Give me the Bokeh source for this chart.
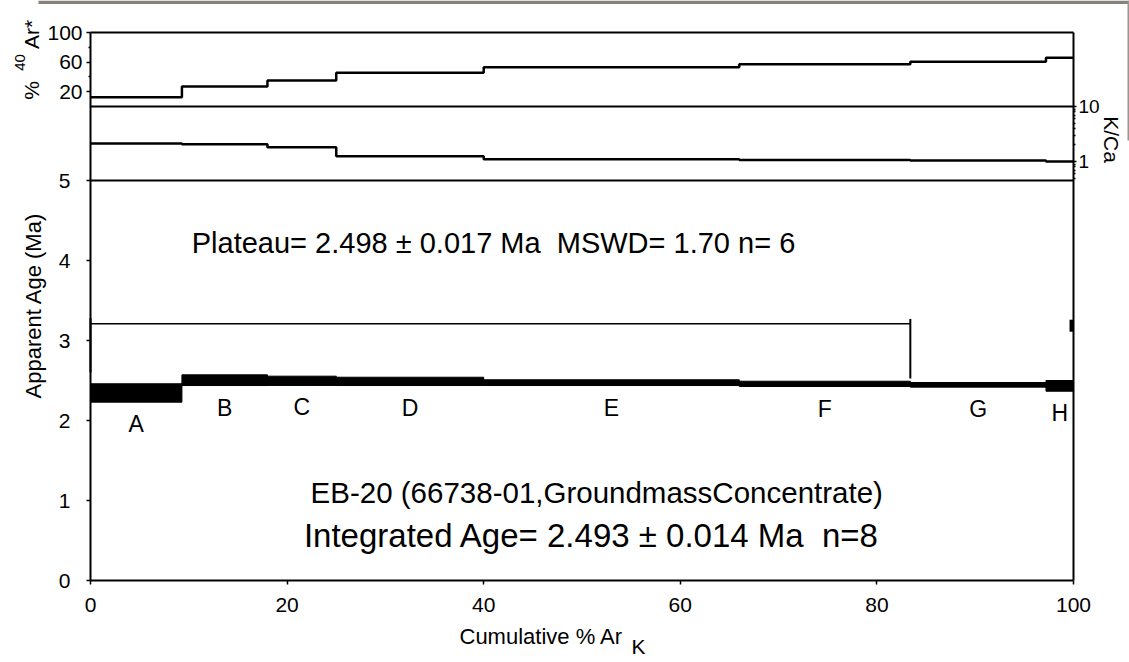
import math
from bokeh.plotting import figure
from bokeh.models import (Range1d, FixedTicker, Label, LinearAxis, LogAxis,
                          BasicTickFormatter, LogScale)
from bokeh.embed import file_html
from bokeh.resources import INLINE
from bokeh.core.properties import value

# ---------------- data ----------------
steps = ["A", "B", "C", "D", "E", "F", "G", "H"]
cum_ar = [0.0, 9.3, 18.0, 25.0, 40.0, 66.0, 83.4, 97.2, 100.0]
pct_rad = [12.6, 27.0, 35.0, 45.5, 53.0, 57.0, 60.4, 65.8]
k_ca = [2.12, 2.06, 1.81, 1.25, 1.10, 1.07, 1.04, 1.00]
age = [2.344, 2.504, 2.496, 2.489, 2.473, 2.458, 2.446, 2.433]
age_err = [0.115, 0.067, 0.058, 0.052, 0.036, 0.033, 0.029, 0.067]

plateau_n = 6
plateau_bar_age = 3.21
bracket_top = [3.28, 3.27]
bracket_bottom = [2.60, 2.525]
integrated_marker = [3.11, 3.26]

x_ticks = [0, 20, 40, 60, 80, 100]
age_ticks = [0, 1, 2, 3, 4, 5]
rad_ticks = [20, 60, 100]
rad_minor = [40, 80]
kca_ticks = [1, 10]
kca_minor = [0.5, 0.6, 0.7, 0.8, 0.9, 2, 3, 4, 5, 6, 7, 8, 9]

plateau_text = "Plateau= 2.498 \u00b1 0.017 Ma \u00a0MSWD= 1.70 n= 6"
sample_text = "EB-20 (66738-01,GroundmassConcentrate)"
integrated_text = "Integrated Age= 2.493 \u00b1 0.014 Ma \u00a0n=8"

# ---------------- geometry (canvas pixels) ----------------
FONT = "Liberation Sans"
W, H = 1129, 661
X0_PX, X_PER = 90.0, 9.83          # x=0 position, px per % 39Ar
AGE0_PX, AGE_PER = 580.0, 80.0     # age 0 position, px per Ma
RAD0_PX, RAD_PER = 106.0, 0.74     # %40Ar* = 0 position, px per %
KCA1_PX, KCA_DEC = 161.0, 55.0     # K/Ca = 1 position, px per decade
FRAME_TOP_PX = 32.0
KCA_PANEL_BOTTOM_PX = 180.0

x_range = Range1d(-X0_PX / X_PER, (W - X0_PX) / X_PER)
age_range = Range1d(-(H - AGE0_PX) / AGE_PER, AGE0_PX / AGE_PER)
rad_range = Range1d(-(H - RAD0_PX) / RAD_PER, RAD0_PX / RAD_PER)
kca_range = Range1d(10 ** (-(H - KCA1_PX) / KCA_DEC), 10 ** (KCA1_PX / KCA_DEC))
frame_top_age = (AGE0_PX - FRAME_TOP_PX) / AGE_PER
kca_panel_bottom = 10 ** (-(KCA_PANEL_BOTTOM_PX - KCA1_PX) / KCA_DEC)


def px_x(px):
    return (px - X0_PX) / X_PER


def px_age(py):
    return (AGE0_PX - py) / AGE_PER


p = figure(width=W, height=H, x_range=x_range, y_range=age_range,
           output_backend="svg", toolbar_location=None, title=None,
           min_border=0, x_axis_location=None, y_axis_location=None)
p.extra_y_ranges = {"rad": rad_range, "kca": kca_range}
p.extra_y_scales = {"kca": LogScale()}
p.grid.visible = False
p.outline_line_color = None
p.background_fill_color = "white"
p.border_fill_color = "white"


def style_axis(ax, size="21px"):
    ax.axis_line_color = None
    ax.major_tick_line_color = "black"
    ax.major_tick_line_width = 1.5
    ax.major_tick_out = 4
    ax.major_tick_in = 0
    ax.minor_tick_out = 2
    ax.minor_tick_in = 0
    ax.minor_tick_line_width = 1.5
    ax.major_label_text_font = FONT
    ax.major_label_text_font_size = size
    ax.major_label_text_color = "black"


ay = LinearAxis(ticker=FixedTicker(ticks=age_ticks), fixed_location=0,
                bounds=(age_ticks[0], age_ticks[-1]))
style_axis(ay)
ay.major_label_standoff = 16
ay.minor_tick_line_color = None
p.add_layout(ay, "left")

arad = LinearAxis(y_range_name="rad", ticker=FixedTicker(ticks=rad_ticks, minor_ticks=rad_minor),
                  fixed_location=0, bounds=(0, 100))
style_axis(arad)
arad.major_label_standoff = 4
p.add_layout(arad, "left")

akca = LogAxis(y_range_name="kca", ticker=FixedTicker(ticks=kca_ticks, minor_ticks=kca_minor),
               formatter=BasicTickFormatter(), fixed_location=100,
               bounds=(kca_panel_bottom, 10))
style_axis(akca, "19px")
akca.major_tick_out = 3
akca.major_label_standoff = 2
p.add_layout(akca, "right")

axx = LinearAxis(ticker=FixedTicker(ticks=x_ticks), fixed_location=0, bounds=(0, 100))
style_axis(axx)
axx.major_label_standoff = 13
axx.minor_tick_line_color = None
p.add_layout(axx, "below")

# ---------------- scanned-page edge (grey strip of the source image) ----------------
p.quad(left=[px_x(38)], right=[px_x(W)], bottom=[px_age(3.5)], top=[px_age(0)],
       fill_color="#86817d", line_color=None)
p.quad(left=[px_x(W - 2)], right=[px_x(W)], bottom=[px_age(140)], top=[px_age(0)],
       fill_color="#9a9591", line_color=None)

# ---------------- frame ----------------
p.segment(x0=[0, 100, 0, 0], y0=[0, 0, 0, 5], x1=[0, 100, 100, 100],
          y1=[frame_top_age, frame_top_age, 0, 5], line_width=2, line_color="black")
p.segment(x0=[0, 0], y0=[0, 100], x1=[100, 100], y1=[0, 100], y_range_name="rad",
          line_width=2, line_color="black")

# ---------------- spectra ----------------
p.step(cum_ar, pct_rad + [pct_rad[-1]], mode="after", line_width=2.5, line_color="black",
       y_range_name="rad")
p.step(cum_ar, k_ca + [k_ca[-1]], mode="after", line_width=2.5, line_color="black",
       y_range_name="kca")

lefts = cum_ar[:-1]
rights = cum_ar[1:]
bots = [a - e for a, e in zip(age, age_err)]
tops = [a + e for a, e in zip(age, age_err)]
p.quad(left=lefts, right=rights, bottom=bots, top=tops, fill_color="black",
       line_color="black", line_width=1)

mids = [(l + r) / 2 for l, r in zip(lefts, rights)]
lab_y = [b - 0.275 for b in bots]
p.text(x=mids, y=lab_y, text=steps, text_align="center", text_baseline="middle",
       text_font=value(FONT), text_font_size="23px", text_color="black")

# plateau bracket
p.segment(x0=[cum_ar[0]], y0=[plateau_bar_age], x1=[cum_ar[plateau_n]], y1=[plateau_bar_age],
          line_width=1.5, line_color="black")
p.segment(x0=[cum_ar[0], cum_ar[plateau_n]], y0=bracket_top,
          x1=[cum_ar[0], cum_ar[plateau_n]], y1=bracket_bottom,
          line_width=2, line_color="black")
p.segment(x0=[99.8], y0=[integrated_marker[0]], x1=[99.8], y1=[integrated_marker[1]],
          line_width=4, line_color="black")


def lab(x, y, text, size, angle=0.0, align="center"):
    p.add_layout(Label(x=x, y=y, text=text, angle=angle, text_align=align,
                       text_baseline="middle", text_font=FONT, text_font_size=size,
                       text_color="black"))


lab(41.0, 4.225, plateau_text, "29px")
lab(51.5, 1.10, sample_text, "29.5px")
lab(51.0, 0.5625, integrated_text, "33px")

lab(px_x(32.5), px_age(305), "Apparent Age (Ma)", "22px", angle=math.pi / 2)
lab(px_x(31), px_age(90), "%", "21px", angle=math.pi / 2)
lab(px_x(19), px_age(62), "40", "15px", angle=math.pi / 2)
lab(px_x(31), px_age(34), "Ar*", "21px", angle=math.pi / 2)
lab(px_x(1111), px_age(139), "K/Ca", "21px", angle=-math.pi / 2)
lab(px_x(459), px_age(636), "Cumulative % Ar", "22px", align="left")
lab(px_x(631), px_age(646), "K", "21px", align="left")

open("out.html", "w").write(file_html(p, INLINE))
